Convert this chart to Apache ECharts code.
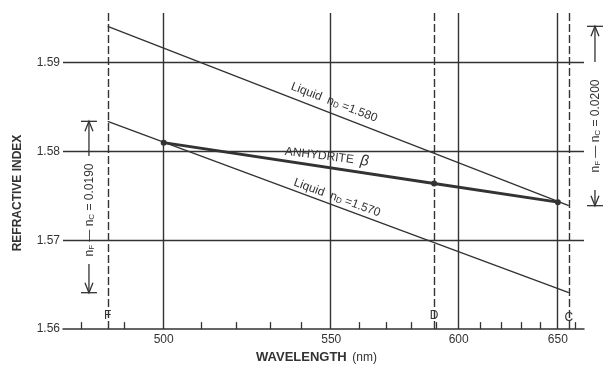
<!DOCTYPE html>
<html>
<head>
<meta charset="utf-8">
<script src="https://cdn.jsdelivr.net/npm/echarts@6/dist/echarts.min.js"></script>
<style>
html, body { margin: 0; padding: 0; background: #fff; }
#chart { width: 604px; height: 369px; }
</style>
</head>
<body>
<div id="chart"></div>
<script>
// dispersion plot: x axis is linear in 1/λ² (λ in nm)
function u(nm) { return 1e6 / (nm * nm); }
function nmOf(v) { return 1000 / Math.sqrt(v); }

var majorNm = [500, 550, 600, 650];
var minorNm = [480, 490, 510, 520, 530, 540, 560, 570, 580, 590, 610, 620, 630, 640, 660];
var lineNames = ['F', 'D', 'C'];
var lineNm = [486.1, 589.3, 656.3];
var yTicks = [1.56, 1.57, 1.58, 1.59];
var yGrid = [1.57, 1.58, 1.59];

// liquids read at F and C
var liquid1580 = [1.5941, 1.5739];
var liquid1570 = [1.5834, 1.5641];
// anhydrite beta
var anhydriteNm = [500, 589.3, 650];
var anhydriteN = [1.5810, 1.5764, 1.5743];

// n_F - n_C brackets: [x nm, top n, bottom n, value]
var spanLeft = [481.7, 1.5834, 1.5641, '0.0190'];
var spanRight = [672.2, 1.5941, 1.5739, '0.0200'];

var INK = '#333333';
var FONT = '"Liberation Sans", Arial, sans-serif';

var chart = echarts.init(document.getElementById('chart'));

var vLines = majorNm.map(function (w) { return {xAxis: u(w)}; });
lineNm.forEach(function (w) {
    vLines.push({xAxis: u(w), lineStyle: {type: [8, 3]}});
});
yGrid.forEach(function (y) { vLines.push({yAxis: y}); });

var subRich = {
    s: {fontSize: 8, fontFamily: FONT, fill: INK, color: INK, verticalAlign: 'bottom', lineHeight: 9}
};

function renderSpan(params, api) {
    var item = [spanLeft, spanRight][params.dataIndex];
    var p1 = api.coord([u(item[0]), item[1]]);
    var p2 = api.coord([u(item[0]), item[2]]);
    var x = p1[0], top = p1[1], bot = p2[1];
    var mid = params.dataIndex === 0 ? (top + bot) / 2 + 3 : (top + bot) / 2 + 10;
    var gap = params.dataIndex === 0 ? 54 : 64;
    var st = {stroke: INK, lineWidth: 1.3, fill: null};
    return {
        type: 'group',
        children: [
            {type: 'line', shape: {x1: x, y1: top, x2: x, y2: mid - gap}, style: st},
            {type: 'line', shape: {x1: x, y1: mid + gap, x2: x, y2: bot}, style: st},
            {type: 'polyline', shape: {points: [[x - 4, top + 10], [x, top], [x + 4, top + 10]]}, style: st},
            {type: 'line', shape: {x1: x - 8, y1: top, x2: x + 8, y2: top}, style: st},
            {type: 'polyline', shape: {points: [[x - 4, bot - 10], [x, bot], [x + 4, bot - 10]]}, style: st},
            {type: 'line', shape: {x1: x - 8, y1: bot, x2: x + 8, y2: bot}, style: st},
            {
                type: 'text', x: x + 1, y: mid, rotation: Math.PI / 2,
                style: {
                    text: 'n{s|F} — n{s|C} = ' + item[3],
                    fill: INK, font: '12px ' + FONT,
                    align: 'center', verticalAlign: 'middle',
                    rich: subRich
                }
            }
        ]
    };
}

var option = {
    animation: false,
    backgroundColor: '#fff',
    textStyle: {fontFamily: FONT, color: INK},
    grid: {left: 63, right: 20, top: 13, bottom: 38},
    xAxis: {
        type: 'value',
        inverse: true,
        min: u(665.4),
        max: u(475.8),
        name: 'WAVELENGTH {nm|(nm)}',
        nameLocation: 'middle',
        nameGap: 19,
        nameTextStyle: {
            fontSize: 13, fontWeight: 'bold', color: INK, verticalAlign: 'top',
            padding: [0, 14, 0, 0],
            rich: {nm: {fontSize: 12, fontWeight: 'normal', color: INK, padding: [0, 0, 0, 2]}}
        },
        axisLine: {lineStyle: {color: INK, width: 1.5}},
        axisTick: {
            inside: true, length: 7,
            customValues: minorNm.map(u),
            lineStyle: {color: INK, width: 1.3}
        },
        axisLabel: {
            customValues: majorNm.map(u),
            formatter: function (v) { return String(Math.round(nmOf(v))); },
            fontSize: 12, color: INK, margin: 5
        },
        splitLine: {show: false}
    },
    yAxis: {
        type: 'value',
        min: 1.56,
        max: 1.5956,
        axisLine: {show: false},
        axisTick: {show: false},
        splitLine: {show: false},
        axisLabel: {
            customValues: yTicks,
            formatter: function (v) { return v.toFixed(2); },
            fontSize: 12, color: INK, margin: 3
        }
    },
    graphic: [{
        type: 'text', x: 18, y: 193, rotation: Math.PI / 2,
        style: {
            text: 'REFRACTIVE INDEX', fill: INK,
            font: 'bold 12px ' + FONT, align: 'center', verticalAlign: 'middle'
        }
    }],
    series: [
        {
            name: 'grid', type: 'line', data: [], silent: true,
            markLine: {
                silent: true, symbol: ['none', 'none'], label: {show: false},
                lineStyle: {color: INK, width: 1.4, type: 'solid'},
                data: vLines
            }
        },
        {
            name: 'Liquid nD=1.580', type: 'line', showSymbol: false,
            lineStyle: {color: INK, width: 1.4},
            data: [[u(lineNm[0]), liquid1580[0]], [u(lineNm[2]), liquid1580[1]]]
        },
        {
            name: 'Liquid nD=1.570', type: 'line', showSymbol: false,
            lineStyle: {color: INK, width: 1.4},
            data: [[u(lineNm[0]), liquid1570[0]], [u(lineNm[2]), liquid1570[1]]]
        },
        {
            name: 'Anhydrite beta', type: 'line', symbol: 'circle', symbolSize: 6,
            itemStyle: {color: INK}, lineStyle: {color: INK, width: 3},
            data: anhydriteNm.map(function (w, i) { return [u(w), anhydriteN[i]]; })
        },
        {
            name: 'labels', type: 'scatter', symbolSize: 0, silent: true,
            itemStyle: {opacity: 1, color: INK},
            label: {show: true, position: 'inside', color: INK, fontSize: 12, fontFamily: FONT,
                textBorderWidth: 0,
                rich: {s: {fontSize: 8, color: INK, verticalAlign: 'bottom', lineHeight: 9, fontFamily: FONT}}},
            data: [
                {value: [u(551), 1.58552], label: {rotate: -21, formatter: 'Liquid  n{s|D} =1.580'}},
                {value: [u(552), 1.57478], label: {rotate: -20, formatter: 'Liquid  n{s|D} =1.570'}},
                {value: [u(548.5), 1.57943], label: {rotate: -7,
                    formatter: 'ANHYDRITE  {b|β}',
                    rich: {b: {fontSize: 15, fontStyle: 'italic', color: INK, fontFamily: FONT}}}},
                {value: [u(lineNm[0]), 1.56146], label: {formatter: lineNames[0]}},
                {value: [u(lineNm[1]), 1.56146], label: {formatter: lineNames[1]}},
                {value: [u(lineNm[2]), 1.56123], label: {formatter: lineNames[2]}}
            ]
        },
        {
            name: 'spans', type: 'custom', clip: false, silent: true,
            renderItem: renderSpan,
            data: [[u(spanLeft[0]), spanLeft[1]], [u(spanRight[0]), spanRight[1]]]
        }
    ]
};

chart.setOption(option);
</script>
</body>
</html>
